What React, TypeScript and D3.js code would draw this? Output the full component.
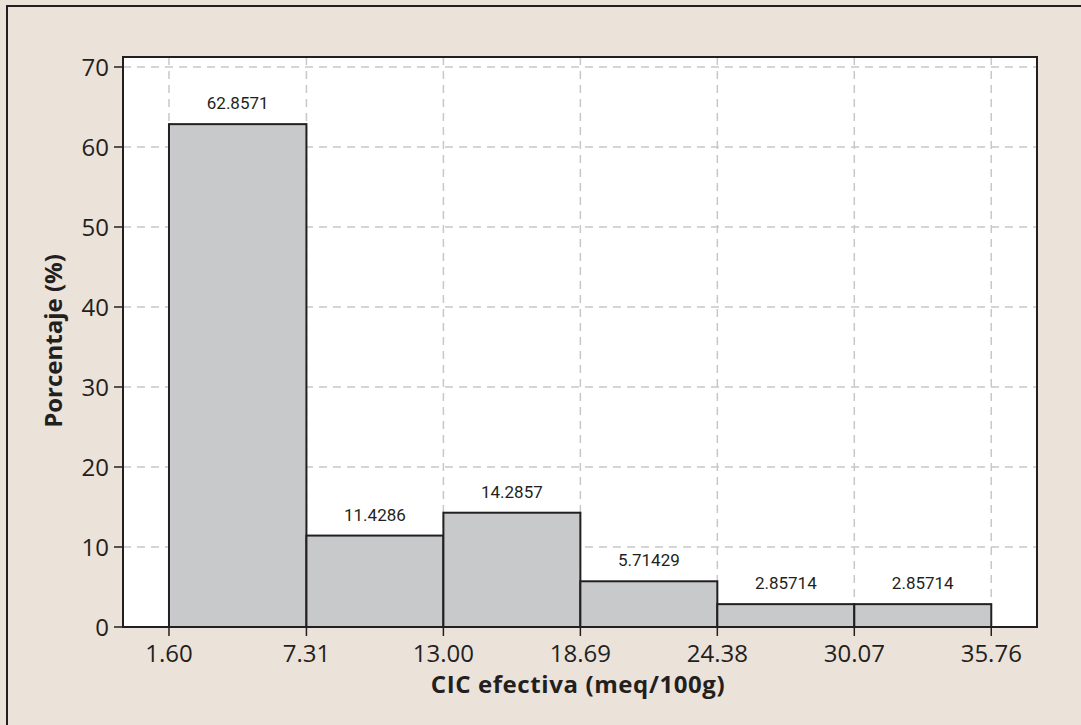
import React from "react";
import * as d3 from "d3";

// bin edges and percentage per bin
const binEdges = [1.6, 7.31, 13.0, 18.69, 24.38, 30.07, 35.76];
const edgeLabels = ["1.60", "7.31", "13.00", "18.69", "24.38", "30.07", "35.76"];
const percentages = [62.8571, 11.4286, 14.2857, 5.71429, 2.85714, 2.85714];
const barLabels = ["62.8571", "11.4286", "14.2857", "5.71429", "2.85714", "2.85714"];
const yTicks = [0, 10, 20, 30, 40, 50, 60, 70];

const W = 1081;
const H = 725;
const left = 123;
const right = 1037;
const top = 57;
const bottom = 627;

const x = d3.scaleLinear().domain([-0.31, 37.66]).range([left, right]);
const y = d3.scaleLinear().domain([0, 70]).range([bottom, bottom - 560]);

const gridColor = "#c8c8c8";
const ink = "#231f20";

export default function App() {
    const bins = percentages.map((p, i) => ({
        x0: binEdges[i],
        x1: binEdges[i + 1],
        value: p,
        label: barLabels[i]
    }));

    return (
        <svg width={W} height={H} style={{ display: "block", position: "absolute", left: 0, top: 0 }}>
            <rect x={0} y={0} width={W} height={H} fill="#ebe2d9" />
            <path d={`M7,${H} V6 H${W}`} fill="none" stroke={ink} strokeWidth={2} />
            <rect x={left} y={top} width={right - left} height={bottom - top} fill="#fff" />

            {/* grid */}
            <g stroke={gridColor} strokeWidth={1.5} strokeDasharray="8,6">
                {yTicks.filter(t => t > 0).map(t => (
                    <line key={"h" + t} x1={left} x2={right} y1={y(t)} y2={y(t)} />
                ))}
                {binEdges.map(e => (
                    <line key={"v" + e} x1={x(e)} x2={x(e)} y1={top} y2={bottom} />
                ))}
            </g>

            {/* bars */}
            <g fill="#c8c9cb" stroke={ink} strokeWidth={2}>
                {bins.map((b, i) => (
                    <rect key={i} x={x(b.x0)} y={y(b.value)} width={x(b.x1) - x(b.x0)} height={y(0) - y(b.value)} />
                ))}
            </g>
            <g fontFamily="Roboto, sans-serif" fontSize={17} fill={ink} textAnchor="middle">
                {bins.map((b, i) => (
                    <text key={i} x={(x(b.x0) + x(b.x1)) / 2} y={y(b.value) - 15}>{b.label}</text>
                ))}
            </g>

            {/* frame */}
            <rect x={left} y={top} width={right - left} height={bottom - top} fill="none" stroke={ink} strokeWidth={2} />

            {/* axes */}
            <g fontFamily="'Open Sans', sans-serif" fontSize={24} fill={ink}>
                {yTicks.map(t => (
                    <g key={t}>
                        <line x1={left - 9} x2={left} y1={y(t)} y2={y(t)} stroke={ink} strokeWidth={1.5} />
                        <text x={left - 14} y={y(t)} dy="0.36em" textAnchor="end">{t}</text>
                    </g>
                ))}
                {binEdges.map((e, i) => (
                    <g key={e}>
                        <line x1={x(e)} x2={x(e)} y1={bottom} y2={bottom + 9} stroke={ink} strokeWidth={1.5} />
                        <text x={x(e)} y={bottom + 35} textAnchor="middle">{edgeLabels[i]}</text>
                    </g>
                ))}
            </g>

            <text x={578} y={693} textAnchor="middle" fontFamily="'Open Sans', sans-serif" letterSpacing={0.6}
                fontWeight="bold" fontSize={24} fill={ink}>CIC efectiva (meq/100g)</text>
            <text transform={`translate(62,341) rotate(-90)`} textAnchor="middle"
                fontFamily="'Open Sans', sans-serif" fontWeight="bold" fontSize={24} fill={ink}>Porcentaje (%)</text>
        </svg>
    );
}
